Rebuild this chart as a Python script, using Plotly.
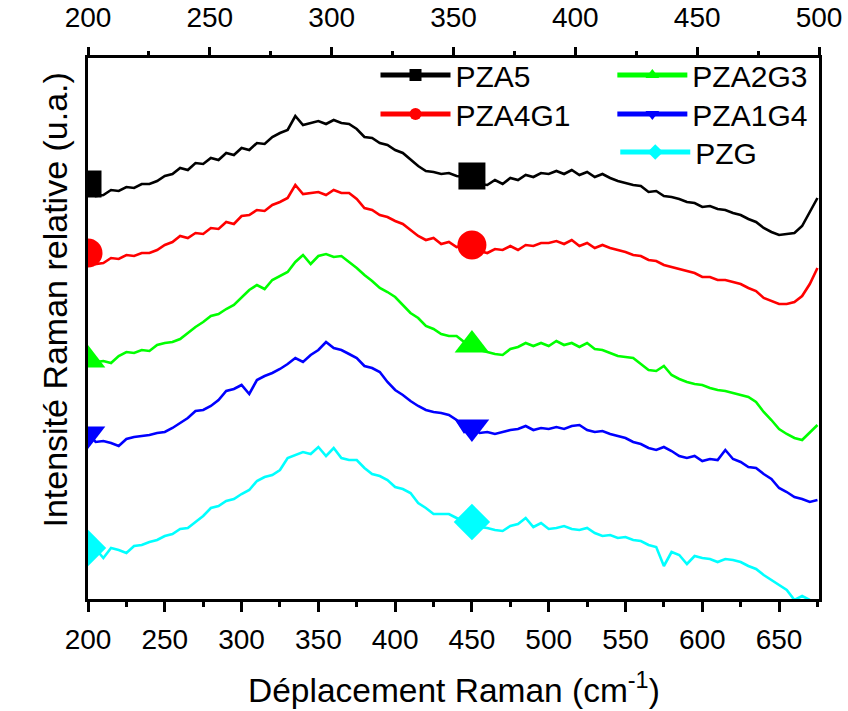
import plotly.graph_objects as go

# Raman shift grid (cm-1)
raman_shift = list(range(200, 676, 5))

# Relative Raman intensity (arbitrary units, offset stacked as in the figure)
pza5 = [417, 405, 406, 411, 410, 414, 413, 417, 417, 420,
        425, 427, 433, 431, 438, 437, 443, 441, 448, 446,
        453, 451, 458, 457, 464, 468, 471, 485, 476, 478,
        480, 477, 481, 478, 477, 472, 464, 463, 458, 456,
        451, 448, 441, 435, 430, 429, 427, 428, 425, 424,
        425, 417, 416, 421, 417, 423, 421, 426, 424, 428,
        427, 430, 427, 431, 426, 429, 424, 427, 423, 420,
        418, 416, 415, 409, 410, 405, 404, 402, 399, 398,
        394, 395, 392, 391, 388, 386, 382, 379, 373, 369,
        366, 367, 368, 375, 389, 403]

pza4g1 = [348, 337, 338, 343, 342, 346, 345, 348, 348, 351,
          356, 359, 365, 363, 368, 367, 373, 372, 379, 377,
          385, 386, 391, 390, 396, 399, 403, 416, 407, 408,
          409, 406, 411, 408, 408, 402, 393, 391, 386, 384,
          380, 377, 371, 365, 361, 363, 357, 359, 354, 356,
          356, 350, 348, 352, 351, 355, 351, 356, 355, 358,
          358, 360, 357, 361, 355, 358, 353, 356, 353, 351,
          349, 346, 345, 341, 340, 336, 334, 332, 330, 328,
          324, 324, 321, 321, 319, 317, 313, 310, 303, 300,
          297, 297, 299, 305, 317, 333]

pza2g3 = [241, 239, 240, 238, 245, 249, 248, 251, 250, 256,
          258, 259, 262, 268, 274, 279, 285, 287, 292, 296,
          303, 311, 316, 312, 321, 325, 329, 339, 346, 337,
          345, 347, 344, 345, 339, 333, 326, 320, 313, 309,
          304, 296, 288, 283, 275, 272, 267, 265, 265, 259,
          256, 251, 249, 247, 246, 252, 254, 258, 255, 258,
          255, 260, 256, 258, 254, 258, 252, 251, 248, 245,
          244, 243, 237, 231, 230, 235, 226, 222, 219, 217,
          216, 213, 211, 210, 208, 206, 204, 199, 189, 181,
          172, 167, 163, 161, 169, 176]

pza1g4 = [167, 159, 160, 158, 155, 162, 164, 165, 166, 168,
          169, 173, 178, 183, 190, 191, 195, 201, 210, 212,
          216, 207, 221, 225, 228, 232, 237, 243, 239, 246,
          251, 259, 253, 251, 247, 243, 235, 233, 229, 219,
          211, 206, 200, 195, 191, 189, 188, 186, 181, 169,
          174, 168, 169, 167, 169, 171, 172, 175, 171, 173,
          172, 174, 172, 175, 176, 171, 169, 170, 167, 165,
          163, 159, 157, 153, 151, 154, 150, 145, 143, 145,
          140, 142, 141, 151, 142, 139, 134, 133, 127, 122,
          113, 109, 104, 102, 99, 101]

pzg = [53, 52, 43, 53, 51, 48, 55, 56, 59, 61,
       65, 67, 72, 73, 79, 85, 93, 95, 100, 102,
       107, 111, 120, 124, 126, 131, 143, 146, 149, 147,
       154, 145, 153, 143, 141, 141, 133, 127, 125, 121,
       114, 112, 108, 98, 93, 87, 87, 87, 83, 79,
       79, 74, 73, 71, 70, 75, 77, 83, 74, 78,
       72, 73, 75, 72, 71, 73, 68, 65, 66, 63,
       64, 61, 60, 56, 54, 35, 49, 46, 37, 45,
       43, 42, 39, 42, 41, 39, 35, 32, 26, 21,
       16, 11, 1, 5, 1, 0]

series_names = ["PZA5", "PZA4G1", "PZA2G3", "PZA1G4", "PZG"]
marker_positions = [200, 450]

FONT = "Liberation Sans, Arial, sans-serif"

styles = {
    "PZA5": dict(color="#000000", symbol="square", size=27, legend="legend"),
    "PZA4G1": dict(color="#FF0000", symbol="circle", size=29, legend="legend2"),
    "PZA2G3": dict(color="#00FF00", symbol="triangle-up", size=30, legend="legend3"),
    "PZA1G4": dict(color="#0000FF", symbol="triangle-down", size=30, legend="legend4"),
    "PZG": dict(color="#00FFFF", symbol="diamond", size=28, legend="legend5"),
}
data = dict(zip(series_names, [pza5, pza4g1, pza2g3, pza1g4, pzg]))

fig = go.Figure()
for name in series_names:
    st = styles[name]
    sizes = [st["size"] if x in marker_positions else 0 for x in raman_shift]
    fig.add_trace(go.Scatter(
        x=raman_shift, y=data[name], mode="lines+markers", name=name,
        line=dict(color=st["color"], width=2.6),
        marker=dict(symbol=st["symbol"], size=sizes, color=st["color"],
                    opacity=1, line=dict(width=0)),
        legend=st["legend"], cliponaxis=True, hoverinfo="skip",
    ))

# dummy trace to carry the top axis
fig.add_trace(go.Scatter(x=[200, 500], y=[300, 300], xaxis="x2", mode="markers",
                         marker=dict(opacity=0), showlegend=False, hoverinfo="skip"))

axis_common = dict(showgrid=False, zeroline=False, showline=True, linewidth=2.5,
                   linecolor="black", ticks="outside", tickwidth=2.5, tickcolor="black",
                   automargin=False,
                   tickfont=dict(size=28, family=FONT, color="black"))


def legend_box(x, y):
    return dict(x=x, y=y, xanchor="left", yanchor="top", itemwidth=70,
                font=dict(size=30, family=FONT, color="black"),
                bgcolor="rgba(0,0,0,0)", itemsizing="constant", tracegroupgap=0)


fig.update_layout(
    width=848, height=711,
    margin=dict(l=88, r=29, t=58, b=112),
    plot_bgcolor="white", paper_bgcolor="white",
    font=dict(family=FONT, color="black"),
    xaxis=dict(range=[200, 676], dtick=50, tick0=200, ticklen=10,
               ticklabelstandoff=4,
               minor=dict(dtick=25, tick0=200, ticks="outside", ticklen=5,
                          tickwidth=2.5, tickcolor="black", showgrid=False),
               **axis_common),
    xaxis2=dict(range=[200, 500], overlaying="x", side="top", anchor="y",
                dtick=50, tick0=200, ticklen=8, ticklabelstandoff=9,
                minor=dict(dtick=25, tick0=200, ticks="outside", ticklen=4,
                           tickwidth=2.5, tickcolor="black", showgrid=False),
                **axis_common),
    yaxis=dict(range=[2, 543], showticklabels=False, ticks="", showgrid=False,
               zeroline=False, showline=True, mirror=True, linewidth=2.5,
               linecolor="black", automargin=False),
    legend=legend_box(0.3933, 1.0166),
    legend2=legend_box(0.3933, 0.9445),
    legend3=legend_box(0.7173, 1.0166),
    legend4=legend_box(0.7173, 0.9445),
    legend5=legend_box(0.7213, 0.8743),
    annotations=[
        dict(text="Intensité Raman relative (u.a.)", xref="paper", yref="paper",
             x=-0.0455, y=0.553, xanchor="center", yanchor="middle", textangle=-90,
             showarrow=False, font=dict(size=34, family=FONT, color="black")),
        dict(text="Déplacement Raman (cm<sup>-1</sup>)", xref="paper", yref="paper",
             x=0.5, y=-0.1645, xanchor="center", yanchor="middle",
             showarrow=False, font=dict(size=33.5, family=FONT, color="black")),
    ],
)

fig.write_html("out.html", config={"displayModeBar": False},
               post_script="document.body.style.margin='0px';")
